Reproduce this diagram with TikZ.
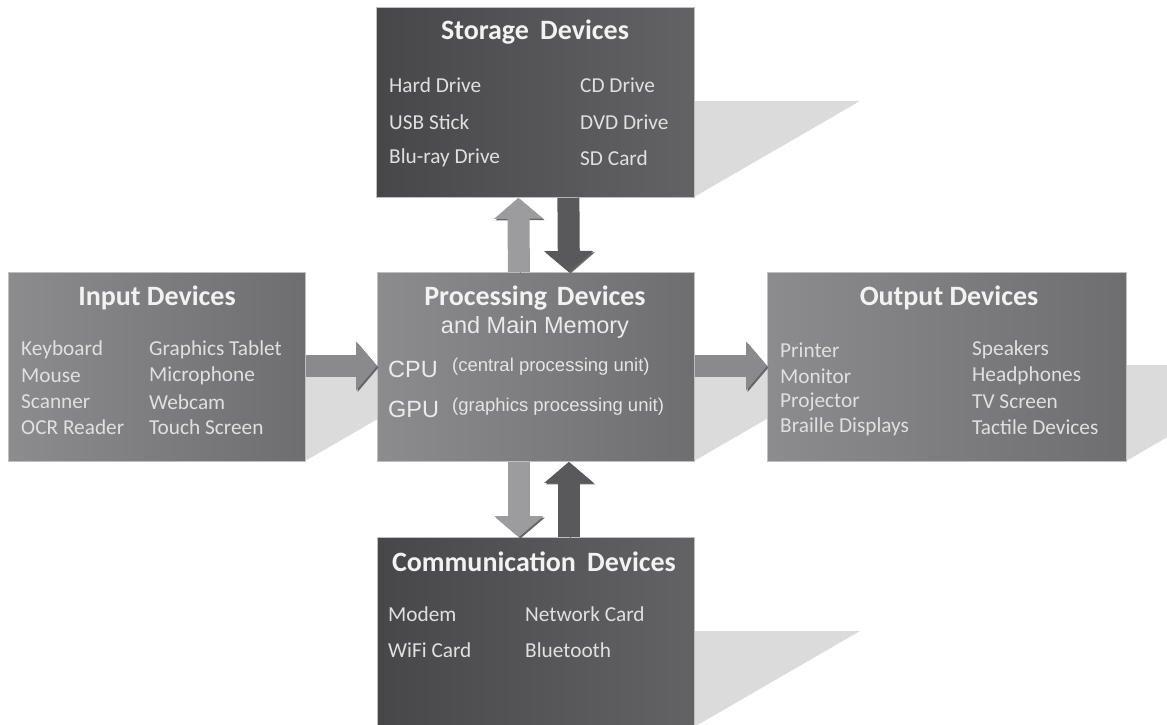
\documentclass[tikz,border=0pt]{standalone}
\usepackage{fontspec}
\setmainfont{Carlito}
\newfontfamily\arialfont{Liberation Sans}
\usetikzlibrary{arrows.meta}

\def\storageshadow{(694,101) -- (860,101) -- (694,197) -- cycle}
\def\inputshadow{(305,365) -- (471,365) -- (305,461) -- cycle}
\def\procshadow{(694,365) -- (860,365) -- (694,461) -- cycle}
\def\outputshadow{(1126,365) -- (1292,365) -- (1126,461) -- cycle}
\def\commshadow{(694,631) -- (860,631) -- (694,727) -- cycle}
\colorlet{shadow area}{black!14}
\definecolor{box dark}{HTML}{474749}
\definecolor{box dark edge}{HTML}{636365}
\definecolor{box mid}{HTML}{8C8C8E}
\definecolor{box mid edge}{HTML}{6E6E70}
\definecolor{arrow light}{HTML}{9C9C9E}
\definecolor{arrow dark}{HTML}{59595B}
\definecolor{arrow mid}{HTML}{8A8A8C}
\tikzset{devicebox/.style={draw=black!25, line width=0.8pt, anchor=north west, inner sep=0pt},
    darkbox/.style={devicebox, shading angle=120, left color=box dark, right color=box dark edge},
    midbox/.style={devicebox, left color=box mid, right color=box mid edge},
    boxtitle/.style={font=\bfseries\fontsize{28}{32}\selectfont, text=white!95!black},
    boxitem/.style={font=\fontsize{21.3}{24}\selectfont, text=white!88!black, anchor=west, inner sep=0pt},
    memline/.style={font=\arialfont\fontsize{23.5}{27}\selectfont, text=white!92!black},
    unitline/.style={font=\arialfont\fontsize{18.5}{21}\selectfont, text=white!90!black, anchor=west, inner sep=0pt},
    blockarrow/.style={line width=22pt, -{Triangle[length=21pt,width=48pt]},
        preaction={draw=black!60, transform canvas={xshift=1.5pt, yshift=-1.5pt}}}}

\begin{document}
\begin{tikzpicture}[x=1pt, y=-1pt]
    \useasboundingbox[fill=white] (0,0) rectangle (1167,724);

    % shadows
    \fill[shadow area] \storageshadow;
    \fill[shadow area] \inputshadow;
    \fill[shadow area] \procshadow;
    \fill[shadow area] \outputshadow;
    \fill[shadow area] \commshadow;

    % boxes
    \node[darkbox, minimum width=318pt, minimum height=190pt] (storage) at (376,7) {};
    \node[midbox, minimum width=297pt, minimum height=189pt] (input) at (8,272) {};
    \node[midbox, minimum width=317pt, minimum height=189pt] (proc) at (377,272) {};
    \node[midbox, minimum width=359pt, minimum height=189pt] (output) at (767,272) {};
    \node[darkbox, minimum width=317pt, minimum height=200pt] (comm) at (377,537) {};

    % arrows
    \draw[blockarrow, draw=arrow light] ([xshift=-17pt]proc.north) -- ([xshift=-17pt]storage.south);
    \draw[blockarrow, draw=arrow dark] ([xshift=33pt]storage.south) -- ([xshift=33pt]proc.north);
    \draw[blockarrow, draw=arrow light] ([xshift=-17pt]proc.south) -- ([xshift=-17pt]comm.north);
    \draw[blockarrow, draw=arrow dark] ([xshift=33pt]comm.north) -- ([xshift=33pt]proc.south);
    \draw[blockarrow, draw=arrow mid] (input.east |- 0,366) -- (proc.west |- 0,366);
    \draw[blockarrow, draw=arrow mid] (proc.east |- 0,366) -- (output.west |- 0,366);

    % storage
    \node[boxtitle] (storage title) at (535,32) {Storage\hspace{0.4em}Devices};
    \node[boxitem] (hard drive) at (389,85) {Hard Drive};
    \node[boxitem] (usb stick) at (389,122) {USB Stick};
    \node[boxitem] (bluray drive) at (389,158) {Blu-ray Drive};
    \node[boxitem] (cd drive) at (580,85) {CD Drive};
    \node[boxitem] (dvd drive) at (580,122) {DVD Drive};
    \node[boxitem] (sd card) at (580,158) {SD Card};

    % input
    \node[boxtitle] (input title) at (157,298) {Input Devices};
    \node[boxitem] (keyboard) at (21,350) {Keyboard};
    \node[boxitem] (mouse) at (21,376) {Mouse};
    \node[boxitem] (scanner) at (21,402) {Scanner};
    \node[boxitem] (ocr reader) at (21,427) {OCR Reader};
    \node[boxitem] (tablet) at (149,350) {Graphics Tablet};
    \node[boxitem] (microphone) at (149,376) {Microphone};
    \node[boxitem] (webcam) at (149,402) {Webcam};
    \node[boxitem] (touch screen) at (149,427) {Touch Screen};

    % processing
    \node[boxtitle] (proc title) at (535,298) {Processing\hspace{0.35em}Devices};
    \node[memline] (main memory) at (535,327) {and Main Memory};
    \node[memline, anchor=west, inner sep=0pt] (cpu) at (388,369) {CPU};
    \node[unitline] (cpu unit) at (452,367) {(central processing unit)};
    \node[memline, anchor=west, inner sep=0pt] (gpu) at (388,409) {GPU};
    \node[unitline] (gpu unit) at (452,407) {(graphics processing unit)};

    % output
    \node[boxtitle] (output title) at (949,298) {Output Devices};
    \node[boxitem] (printer) at (780,350) {Printer};
    \node[boxitem] (monitor) at (780,376) {Monitor};
    \node[boxitem] (projector) at (780,402) {Projector};
    \node[boxitem] (braille) at (780,427) {Braille Displays};
    \node[boxitem] (speakers) at (972,350) {Speakers};
    \node[boxitem] (headphones) at (972,376) {Headphones};
    \node[boxitem] (tv screen) at (972,402) {TV Screen};
    \node[boxitem] (tactile) at (972,427) {Tactile Devices};

    % communication
    \node[boxtitle] (comm title) at (534,562) {Communication\hspace{0.4em}Devices};
    \node[boxitem] (modem) at (388,614) {Modem};
    \node[boxitem] (wifi card) at (388,650) {WiFi Card};
    \node[boxitem] (network card) at (525,614) {Network Card};
    \node[boxitem] (bluetooth) at (525,650) {Bluetooth};
\end{tikzpicture}
\end{document}
